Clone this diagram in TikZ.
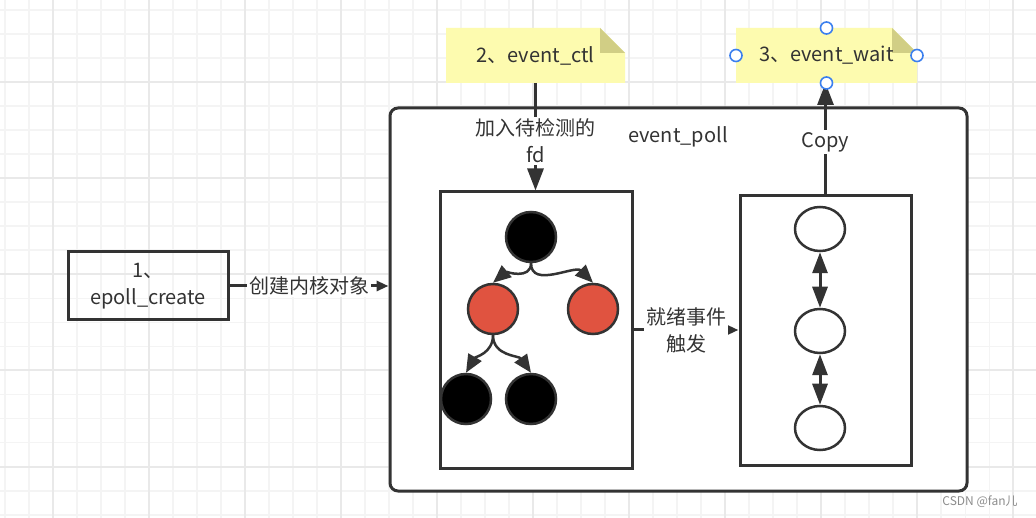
\documentclass[tikz,border=0pt]{standalone}
\usepackage{fontspec}
\setmainfont{Noto Sans CJK SC}
\usetikzlibrary{positioning,shapes.geometric,arrows.meta,backgrounds}

\definecolor{ink}{HTML}{333333}
\definecolor{gridminor}{HTML}{F4F4F4}
\definecolor{gridmajor}{HTML}{E9E9E9}
\definecolor{notefill}{HTML}{FDFBAF}
\definecolor{notefold}{HTML}{D1CE85}
\definecolor{rbred}{HTML}{E05340}
\definecolor{handleblue}{HTML}{3B7FEE}

\begin{document}
\begin{tikzpicture}[x=1pt, y=1pt,
  txt/.style={font=\fontsize{20}{27}\selectfont, text=ink, align=center},
  fnbox/.style={rectangle, draw=ink, line width=3pt, txt, minimum width=160pt, minimum height=68pt},
  frame/.style={rectangle, draw=ink, line width=3pt, inner sep=0pt},
  note/.style={rectangle, txt, minimum width=179pt, minimum height=55pt, outer sep=0pt},
  lbl/.style={txt, fill=white, inner sep=2pt},
  rb/.style={circle, draw=ink, line width=2.5pt, minimum size=50pt, inner sep=0pt},
  cell/.style={ellipse, draw=ink, line width=2.5pt, fill=white, minimum width=50pt, minimum height=44pt, inner sep=0pt},
  conn/.style={draw=ink, line width=3pt},
  bigtip/.style={-{Triangle[length=22pt, width=16pt]}},
  smalltip/.style={-{Triangle[length=12pt, width=10pt]}},
  treearr/.style={draw=ink, line width=2.5pt, -{Triangle[length=18pt, width=15pt]}},
  handle/.style={circle, draw=handleblue, line width=1.6pt, fill=white, minimum size=12pt, inner sep=0pt}
]
  \useasboundingbox (0,0) rectangle (1036,-518);

  % grid paper
  \begin{scope}[on background layer]
    \fill[white] (0,0) rectangle (1036,-518);
    \foreach \k in {0,...,42}
      \draw[gridminor, line width=1.8pt] ({4.6+24.02*\k},0) -- ({4.6+24.02*\k},-518);
    \foreach \k in {0,...,21}
      \draw[gridminor, line width=1.8pt] (0,{-10.2-24.02*\k}) -- (1036,{-10.2-24.02*\k});
    \foreach \k in {2,6,...,42}
      \draw[gridmajor, line width=2pt] ({4.6+24.02*\k},0) -- ({4.6+24.02*\k},-518);
    \foreach \k in {3,7,...,19}
      \draw[gridmajor, line width=2pt] (0,{-10.2-24.02*\k}) -- (1036,{-10.2-24.02*\k});
  \end{scope}

  % main boxes
  \node[fnbox] (create) at (148,-286) {1、\\epoll\_create};
  \node[frame, fill=white, rounded corners=8pt, minimum width=577pt, minimum height=383pt] (poll) at (678.5,-299.5) {};
  \node[txt] (polllbl) at (678,-137) {event\_poll};
  \node[frame, minimum width=192pt, minimum height=276pt] (tree) at (536,-330) {};
  \node[frame, minimum width=171pt, minimum height=269pt] (list) at (825.5,-330.5) {};

  % notes
  \node[note] (ctl) at (535.5,-55.5) {2、event\_ctl};
  \node[note, minimum width=181pt] (wait) at (826.5,-55.5) {3、event\_wait};
  \begin{scope}[on background layer]
    \foreach \n in {ctl,wait} {
      \fill[notefill] (\n.south west) -- (\n.north west) -- ([xshift=-25pt]\n.north east)
        -- ([yshift=-25pt]\n.north east) -- (\n.south east) -- cycle;
      \fill[notefold] ([xshift=-25pt]\n.north east) -- ([yshift=-25pt]\n.north east)
        -- ([xshift=-25pt,yshift=-25pt]\n.north east) -- cycle;
    }
  \end{scope}

  % red-black tree
  \node[rb, fill=black] (root) at (531,-237) {};
  \node[rb, fill=rbred] (r1) at (493,-309) {};
  \node[rb, fill=rbred] (r2) at (593,-309) {};
  \node[rb, fill=black] (b1) at (466,-399) {};
  \node[rb, fill=black] (b2) at (531,-399) {};
  \draw[treearr] (root.south) to[out=-90, in=40] (r1.north);
  \draw[treearr] (root.south) to[out=-90, in=135] (r2.north);
  \draw[treearr] (r1.south) to[out=-90, in=60] (b1.north);
  \draw[treearr] (r1.south) to[out=-90, in=125] (b2.north);

  % ready list
  \node[cell] (l1) at (820,-229) {};
  \node[cell] (l2) at (820,-331) {};
  \node[cell] (l3) at (820,-428) {};
  \draw[conn, {Triangle[length=21pt, width=15pt]}-{Triangle[length=21pt, width=15pt]}] (l1) -- (l2);
  \draw[conn, {Triangle[length=21pt, width=15pt]}-{Triangle[length=21pt, width=15pt]}] (l2) -- (l3);

  % connectors
  \draw[conn, smalltip] (create.east) -- node[lbl] {创建内核对象} (create.east -| poll.west);
  \draw[conn, bigtip] (ctl.south) -- node[lbl, pos=0.54] {加入待检测的\\fd} (ctl.south |- tree.north);
  \draw[conn, smalltip] (tree.east) -- node[lbl] {就绪事件\\触发} (tree.east -| list.west);
  \draw[conn, bigtip] (list.north) -- node[lbl, pos=0.47] {Copy} (list.north |- wait.south);

  % selection handles
  \node[handle] (hn) at (wait.north) {};
  \node[handle] (hs) at (wait.south) {};
  \node[handle] (hw) at (wait.west) {};
  \node[handle] (he) at (wait.east) {};

  \node[font=\fontsize{12}{14}\selectfont, text=black!45] (mark) at (980,-502) {CSDN @fan儿};
\end{tikzpicture}
\end{document}
